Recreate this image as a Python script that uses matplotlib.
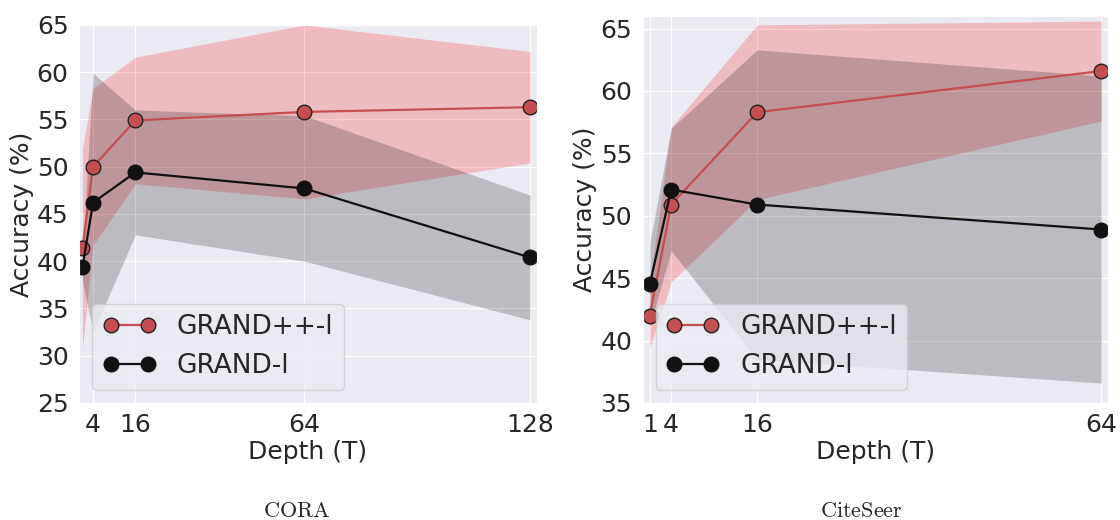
import matplotlib
matplotlib.use("Agg")
import matplotlib.pyplot as plt
import seaborn as sns
import numpy as np

# CORA
cora_depth = [1, 4, 16, 64, 128]
cora_gpp = [41.4, 50.0, 54.9, 55.8, 56.3]
cora_gpp_std = [10.6, 8.3, 6.7, 9.2, 5.9]
cora_g = [39.4, 46.2, 49.4, 47.7, 40.4]
cora_g_std = [1.5, 13.7, 6.6, 7.7, 6.6]

# CiteSeer
cs_depth = [1, 4, 16, 64]
cs_gpp = [42.0, 50.9, 58.3, 61.6]
cs_gpp_std = [2.6, 6.2, 7.0, 4.0]
cs_g = [44.5, 52.1, 50.9, 48.9]
cs_g_std = [3.3, 4.9, 12.4, 12.3]

sns.set_style("darkgrid")
plt.rcParams['font.family'] = ['DejaVu Sans']

RED = '#c44e52'
FS = 18

fig = plt.figure(figsize=(11.2, 5.2), dpi=100)


def panel(rect, depth, gpp, gpp_std, g, g_std, xlim, ylim, xticks, yticks):
    ax = fig.add_axes(rect)
    depth = np.array(depth)
    gpp, gpp_std = np.array(gpp), np.array(gpp_std)
    g, g_std = np.array(g), np.array(g_std)
    ax.fill_between(depth, gpp - gpp_std, gpp + gpp_std, color='red', alpha=0.2, linewidth=0)
    ax.fill_between(depth, g - g_std, g + g_std, color='black', alpha=0.2, linewidth=0)
    ax.plot(depth, gpp, '-o', color=RED, markersize=10.5, markeredgecolor='#222222',
            markeredgewidth=1.0, linewidth=1.6, label='GRAND++-l')
    ax.plot(depth, g, '-o', color='#111111', markersize=10.5, linewidth=1.6, label='GRAND-l')
    ax.set_xlim(*xlim)
    ax.set_ylim(*ylim)
    ax.set_xticks(xticks)
    ax.set_yticks(yticks)
    ax.tick_params(labelsize=FS, pad=4)
    ax.set_xlabel('Depth (T)', fontsize=FS, labelpad=2)
    ax.set_ylabel('Accuracy (%)', fontsize=FS, labelpad=2)
    ax.legend(loc='lower left', fontsize=19, numpoints=2, frameon=True, framealpha=0.8)
    return ax


panel([0.0705, 0.225, 0.409, 0.727], cora_depth, cora_gpp, cora_gpp_std, cora_g, cora_g_std,
      (0, 130), (25, 65), [4, 16, 64, 128], list(range(25, 66, 5)))
panel([0.5737, 0.225, 0.416, 0.744], cs_depth, cs_gpp, cs_gpp_std, cs_g, cs_g_std,
      (0, 65), (35, 66), [1, 4, 16, 64], list(range(35, 66, 5)))

fig.text(297 / 1120, 1 - 511 / 520, r'$\mathrm{CORA}$', math_fontfamily='cm',
         fontsize=16, ha='center', va='center')
fig.text(861 / 1120, 1 - 511 / 520, r'$\mathrm{CiteSeer}$', math_fontfamily='cm',
         fontsize=16, ha='center', va='center')

fig.savefig('out.png', dpi=100)
